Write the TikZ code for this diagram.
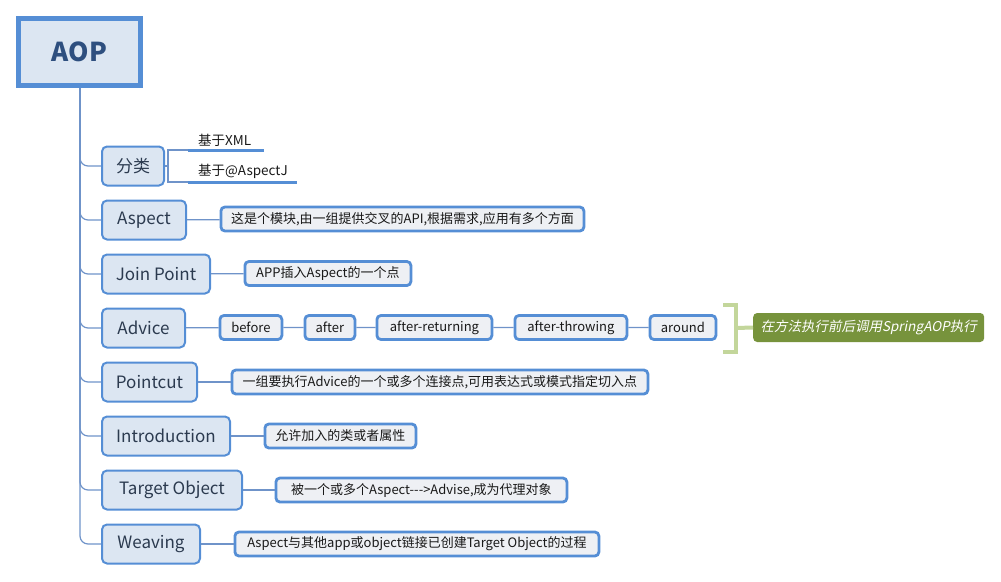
\documentclass[tikz,border=0pt]{standalone}
\usepackage{fontspec}
\setmainfont{Noto Sans CJK SC}
\newfontfamily\slfont[FakeSlant=0.2]{Noto Sans CJK SC}
\definecolor{edge}{HTML}{558ED5}
\definecolor{wire}{HTML}{6F93C9}
\definecolor{topicfill}{HTML}{DCE6F2}
\definecolor{notefill}{HTML}{EEF0F4}
\definecolor{topictext}{HTML}{2B3A4F}
\definecolor{roottext}{HTML}{2E4F7F}
\definecolor{brace}{HTML}{C3D69B}
\definecolor{olive}{HTML}{77933C}

\begin{document}
\begin{tikzpicture}[x=1pt,y=-1pt,
  root/.style={draw=edge,line width=4.5pt,fill=topicfill,minimum width=122,
    minimum height=67,font=\fontsize{26}{30}\selectfont\bfseries,text=roottext},
  topic/.style={draw=edge,line width=2pt,fill=topicfill,rounded corners=5,
    minimum height=39,inner xsep=3,font=\fontsize{17}{20}\selectfont,
    text=topictext,anchor=west},
  note/.style={draw=edge,line width=2.8pt,fill=notefill,rounded corners=4,
    minimum height=24,inner xsep=4,inner ysep=2,
    font=\fontsize{13}{15}\selectfont,text=black!90,anchor=west},
  sub/.style={inner xsep=10,inner ysep=3,align=left,anchor=south west,
    font=\fontsize{13.5}{15}\selectfont,text=black!90},
  link/.style={draw=wire,line width=1.2pt},
  line/.style={draw=edge,line width=3pt},
]
  \useasboundingbox (0,0) rectangle (1001,581);

  \node[root] (aop) at (79.5,52) {AOP};

  % main topics along the trunk
  \foreach \name/\txt/\w [count=\i] in {cat/分类/62,aspect/Aspect/84,
      join/Join Point/108,advice/Advice/83,pcut/Pointcut/95,
      intro/Introduction/128,target/Target Object/140,weave/Weaving/98} {
    \node[topic,minimum width=\w] (\name) at (101,{166+54*(\i-1)}) {\txt};
    \draw[link,rounded corners=8] (80,88) |- (\name.west);
  }

  % 分类
  \node[sub,text width=56] (xml) at (188,150) {基于XML};
  \node[sub,text width=89] (aj) at (188,182) {基于@AspectJ};
  \draw[line] (xml.south west) -- (xml.south east);
  \draw[line] (aj.south west) -- (aj.south east);
  \coordinate (fork) at (168,166);
  \draw[link] (cat.east) -- (fork) (xml.south west) -| (fork) |- (aj.south west);

  % notes
  \node[note,minimum width=363] (aspectnote) at (219.5,219)
    {这是个模块,由一组提供交叉的API,根据需求,应用有多个方面};
  \node[note,minimum width=166] (joinnote) at (243.5,273.5) {APP插入Aspect的一个点};
  \node[note,minimum width=416] (pcutnote) at (230.5,382)
    {一组要执行Advice的一个或多个连接点,可用表达式或模式指定切入点};
  \node[note,minimum width=151] (intronote) at (263.5,436) {允许加入的类或者属性};
  \node[note,minimum width=291] (targetnote) at (274.5,490)
    {被一个或多个Aspect-{}-{}->Advise,成为代理对象};
  \node[note,minimum width=364] (weavenote) at (233.5,544)
    {Aspect与其他app或object链接已创建Target Object的过程};
  \foreach \a in {aspect,join,pcut,intro,target,weave}
    \draw[link] (\a) -- (\a note);

  % advice kinds
  \foreach \name/\txt/\x/\w in {before/before/218.5/62,after/after/303.5/50,
      ret/after-returning/375.5/115,thr/after-throwing/513.5/112,
      around/around/648.5/66}
    \node[note,minimum width=\w] (\name) at (\x,327.5) {\txt};
  \draw[link] (advice) -- (before) (before) -- (after) (after) -- (ret)
    (ret) -- (thr) (thr) -- (around);

  % summary
  \coordinate (brk) at (736,328);
  \draw[brace,line width=4pt] (723,305) -- (736,305) -- (736,352) -- (723,352);
  \node[fill=olive,rounded corners=4,minimum width=231,minimum height=29,
    anchor=west,text=white,font=\fontsize{13.5}{15}\selectfont\slfont]
    (summary) at (753,327.5) {在方法执行前后调用SpringAOP执行};
  \draw[brace,line width=4pt] (brk) -- (summary.west);
\end{tikzpicture}
\end{document}
